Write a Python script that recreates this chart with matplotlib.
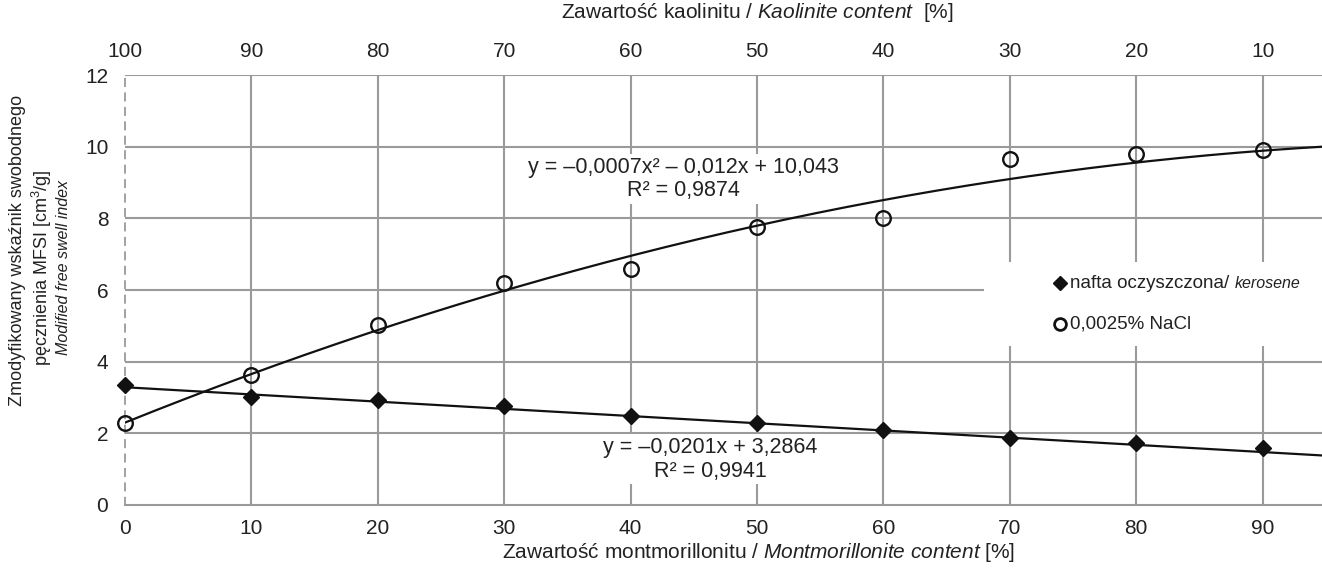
import numpy as np
import matplotlib
matplotlib.use('Agg')
from matplotlib import pyplot as plt
from matplotlib.patches import Rectangle

plt.rcParams['font.family'] = ['Liberation Sans', 'DejaVu Sans']
plt.rcParams['mathtext.fontset'] = 'custom'
plt.rcParams['mathtext.rm'] = 'Liberation Sans'
plt.rcParams['mathtext.it'] = 'Liberation Sans:italic'

# dane
montmorylonit = [0, 10, 20, 30, 40, 50, 60, 70, 80, 90]
nafta = [3.35, 3.02, 2.92, 2.75, 2.48, 2.28, 2.08, 1.88, 1.72, 1.58]
nacl = [2.30, 3.62, 5.02, 6.20, 6.60, 7.75, 8.00, 9.65, 9.80, 9.90]
kaolinit_ticks = [100, 90, 80, 70, 60, 50, 40, 30, 20, 10]
y_ticks = [0, 2, 4, 6, 8, 10, 12]
# linia trendu NaCl wzgledem zawartosci kaolinitu (wspolczynniki jak w rownaniu na wykresie)
trend_nacl_k = [-0.00064, -0.0139, 10.09]
# linia trendu nafty wzgledem zawartosci montmorillonitu
trend_nafta = [-0.0201, 3.2864]

szary = '#9a9a9a'
czarny = '#111111'
tekst = '#222222'
xmax = 94.7

fig = plt.figure(figsize=(13.22, 5.70), dpi=100)
ax = fig.add_axes([125 / 1322, 65 / 570, 1197 / 1322, 430 / 570])
ax.set_xlim(0, xmax)
ax.set_ylim(0, 12)

# siatka
for xv in montmorylonit[1:]:
    ax.axvline(xv, color=szary, lw=1.5, zorder=0.5)
for yv in y_ticks[1:]:
    ax.axhline(yv, color=szary, lw=1.5, zorder=0.5)

for s in ['top', 'right']:
    ax.spines[s].set_visible(False)
ax.spines['left'].set_color(szary)
ax.spines['left'].set_linestyle((0, (4, 4)))
ax.spines['left'].set_linewidth(1.3)
ax.spines['bottom'].set_color(szary)
ax.spines['bottom'].set_linewidth(1.5)

ax.set_xticks(montmorylonit)
ax.set_yticks(y_ticks)
ax.tick_params(axis='both', length=0, labelsize=15, colors=tekst)
ax.tick_params(axis='x', pad=10)
ax.tick_params(axis='y', pad=12)

# linie trendu
xx = np.linspace(0, xmax, 200)
ax.plot(xx, np.polyval(trend_nafta, xx), color=czarny, lw=1.6, zorder=3)
ax.plot(xx, np.polyval(trend_nacl_k, 100 - xx), color=czarny, lw=1.6, zorder=3)

ax.plot(montmorylonit, nafta, 'D', color=czarny, ms=8, zorder=4, clip_on=False)
ax.plot(montmorylonit, nacl, 'o', mfc='none', mec=czarny, mew=1.7, ms=10.5, zorder=4, clip_on=False)

# opisy równań
ax.text(44.2, 9.1, 'y = –0,0007x² – 0,012x + 10,043\nR² = 0,9874', ha='center', va='center',
        fontsize=15.5, linespacing=1.15, color=tekst, zorder=1,
        bbox=dict(facecolor='white', edgecolor='none', pad=2))
ax.text(46.3, 1.27, 'y = –0,0201x + 3,2864\nR² = 0,9941', ha='center', va='center',
        fontsize=15.5, linespacing=1.15, color=tekst, zorder=1,
        bbox=dict(facecolor='white', edgecolor='none', pad=2))

# legenda (rysowana recznie, zeby "kerosene" bylo mniejsza kursywa)
ax.add_patch(Rectangle((0.718, 0.37), 0.3, 0.195, transform=ax.transAxes,
                       facecolor='white', edgecolor='none', zorder=1))
ax.plot([0.781], [0.516], 'D', color=czarny, ms=7, transform=ax.transAxes, zorder=5, clip_on=False)
ax.plot([0.781], [0.421], 'o', mfc='none', mec=czarny, mew=2, ms=8.5,
        transform=ax.transAxes, zorder=5, clip_on=False)
t1 = ax.text(0.7895, 0.516, 'nafta oczyszczona/ ', va='center', fontsize=13.5,
             color=tekst, transform=ax.transAxes, zorder=5)
ax.annotate('kerosene', xy=(1, 0.06), xycoords=t1, va='bottom', fontsize=11.5,
            style='italic', color=tekst, zorder=5)
ax.text(0.7895, 0.421, '0,0025% NaCl', va='center', fontsize=13.5,
        color=tekst, transform=ax.transAxes, zorder=5)

# oś górna
sec = ax.secondary_xaxis('top', functions=(lambda x: 100 - x, lambda x: 100 - x))
sec.set_xticks(kaolinit_ticks)
sec.tick_params(length=0, labelsize=15, pad=10, colors=tekst)
sec.spines['top'].set_visible(False)

# podpisy osi
fig.text(0.574, 0.030, 'Zawartość montmorillonitu / $\\mathit{Montmorillonite\\ content}$ [%]',
         ha='center', va='center', fontsize=15, color=tekst)
fig.text(0.573, 0.978, 'Zawartość kaolinitu / $\\mathit{Kaolinite\\ content}$  [%]',
         ha='center', va='center', fontsize=15, color=tekst)
fig.text(18 / 1322, 0.56, 'Zmodyfikowany wskaźnik swobodnego', rotation=90,
         ha='center', va='center', fontsize=13, color=tekst)
fig.text(42 / 1322, 0.53, 'pęcznienia MFSI [cm$^3$/g]', rotation=90,
         ha='center', va='center', fontsize=13, color=tekst)
fig.text(63 / 1322, 0.53, 'Modified free swell index', rotation=90, style='italic',
         ha='center', va='center', fontsize=11.5, color=tekst)

fig.savefig('out.png', dpi=100)
